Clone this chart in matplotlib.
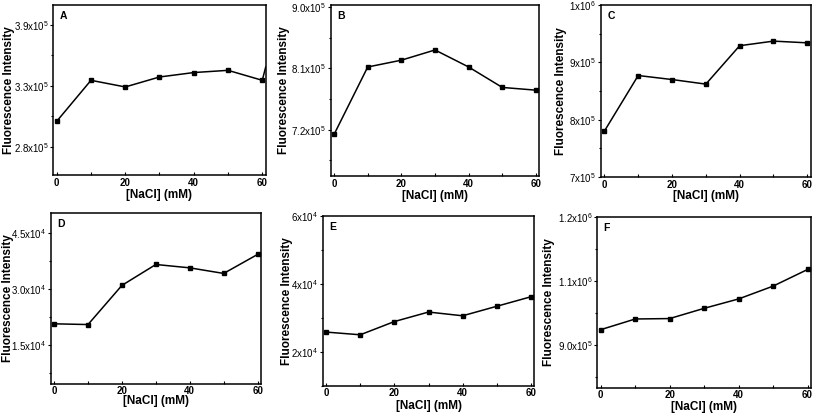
import matplotlib
matplotlib.use("Agg")
import matplotlib.pyplot as plt

plt.rcParams['font.family'] = ['Liberation Sans', 'DejaVu Sans']
plt.rcParams['mathtext.fontset'] = 'custom'
plt.rcParams['mathtext.rm'] = 'Liberation Sans'
plt.rcParams['mathtext.default'] = 'regular'

# NaCl concentration (mM)
nacl = [0, 10, 20, 30, 40, 50, 60]

# fluorescence intensity
a_y = [3.03e5, 3.40e5, 3.34e5, 3.43e5, 3.47e5, 3.49e5, 3.40e5]
b_y = [7.13e5, 8.12e5, 8.22e5, 8.37e5, 8.12e5, 7.82e5, 7.78e5]
c_y = [7.80e5, 8.77e5, 8.70e5, 8.62e5, 9.29e5, 9.37e5, 9.34e5]
d_y = [2.06e4, 2.04e4, 3.09e4, 3.65e4, 3.56e4, 3.41e4, 3.92e4]
e_y = [2.58e4, 2.50e4, 2.89e4, 3.17e4, 3.06e4, 3.34e4, 3.62e4]
f_y = [9.36e5, 9.61e5, 9.62e5, 9.86e5, 1.008e6, 1.038e6, 1.077e6]

# panel A has a stray segment leaving the frame after 60 mM
a_tail_x = [60, 61]
a_tail_y = [3.40e5, 3.52e5]

a_ticks = [2.8e5, 3.35e5, 3.9e5]
a_labels = ['2.8x10$^5$', '3.3x10$^5$', '3.9x10$^5$']
b_ticks = [7.2e5, 8.1e5, 9.0e5]
b_labels = ['7.2x10$^5$', '8.1x10$^5$', '9.0x10$^5$']
c_ticks = [7e5, 8e5, 9e5, 1e6]
c_labels = ['7x10$^5$', '8x10$^5$', '9x10$^5$', '1x10$^6$']
d_ticks = [1.5e4, 3.0e4, 4.5e4]
d_labels = ['1.5x10$^4$', '3.0x10$^4$', '4.5x10$^4$']
e_ticks = [2e4, 4e4, 6e4]
e_labels = ['2x10$^4$', '4x10$^4$', '6x10$^4$']
f_ticks = [9.0e5, 1.05e6, 1.2e6]
f_labels = ['9.0x10$^5$', '1.1x10$^6$', '1.2x10$^6$']

letters = ['A', 'B', 'C', 'D', 'E', 'F']
series = [a_y, b_y, c_y, d_y, e_y, f_y]
ticks = [a_ticks, b_ticks, c_ticks, d_ticks, e_ticks, f_ticks]
labels = [a_labels, b_labels, c_labels, d_labels, e_labels, f_labels]

# layout in pixels: left, right, top, bottom, ylim, ylabel right edge, xlabel top
W, H = 815, 416
layout = [
    (53.3, 265.7, 5, 175, (2.545e5, 4.08e5), 15, 189),
    (330.7, 539.3, 5, 176, (6.52e5, 9.03e5), 290, 190),
    (601, 810.7, 5, 177, (7e5, 1e6), 567, 190),
    (50.7, 261, 213, 383.5, (0.46e4, 5.03e4), 14, 395),
    (322.7, 534.3, 216, 385.7, (1e4, 6e4), 293, 400),
    (597.3, 811, 217, 387.7, (8.0e5, 1.2e6), 555, 401),
]

fig = plt.figure(figsize=(W / 100, H / 100), dpi=100)

for i in range(6):
    l, r, t, b, ylim, ylx, xly = layout[i]
    ax = fig.add_axes([l / W, 1 - b / H, (r - l) / W, (b - t) / H])
    ax.plot(nacl, series[i], color='black', lw=1.1, marker='s', ms=3)
    if i == 0:
        ax.plot(a_tail_x, a_tail_y, color='black', lw=1.1)
    ax.set_xlim(-1, 61)
    ax.set_ylim(*ylim)
    ax.set_xticks([0, 20, 40, 60])
    ax.set_xticks([10, 30, 50], minor=True)
    ax.set_xticklabels(['0', '20', '40', '60'], fontweight='bold', fontsize=7)
    ax.set_yticks(ticks[i])
    ax.set_yticklabels(labels[i], fontsize=7)
    step = ticks[i][1] - ticks[i][0]
    minors = [v - step / 2 for v in ticks[i]] + [ticks[i][-1] + step / 2]
    ax.set_yticks([v for v in minors if ylim[0] <= v <= ylim[1]], minor=True)
    ax.tick_params(axis='x', which='both', direction='in', length=2.5, width=0.8, pad=2)
    ax.tick_params(axis='y', which='major', direction='out', length=2.5, width=0.8, pad=1)
    ax.tick_params(axis='y', which='minor', direction='out', length=1.5, width=0.8)
    for s in ax.spines.values():
        s.set_linewidth(1.1)
    ax.set_ylabel('Fluorescence Intensity', fontweight='bold', fontsize=8.5)
    ax.set_xlabel('[NaCl] (mM)', fontweight='bold', fontsize=8.5)
    ax.yaxis.set_label_coords((ylx - l) / (r - l), 0.5)
    ax.xaxis.set_label_coords(0.5, -(xly - b) / (b - t))
    ax.text(0.03, 0.965, letters[i], transform=ax.transAxes, ha='left',
            va='top', fontweight='bold', fontsize=7.5)

fig.savefig('out.png', dpi=100)
